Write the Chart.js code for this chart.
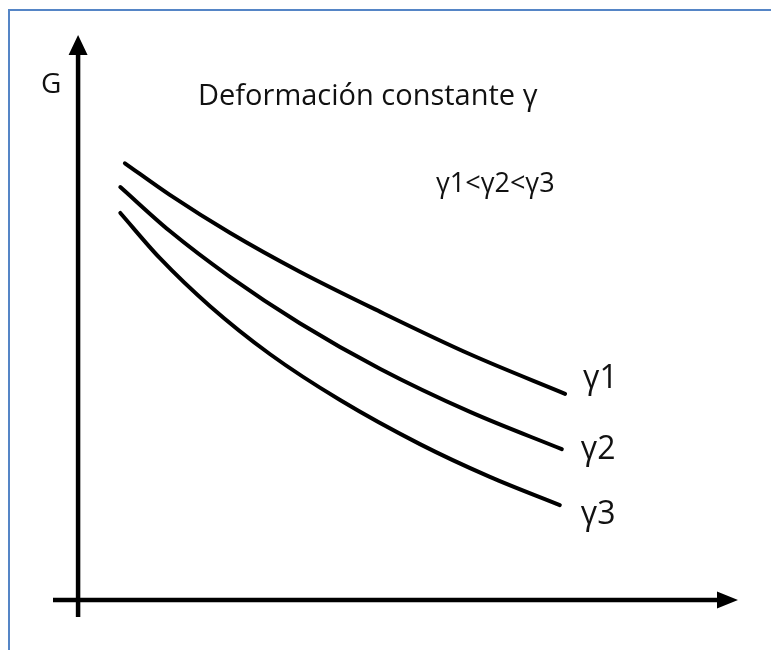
<!DOCTYPE html>
<html>
<head>
<meta charset="utf-8">
<title>Deformación constante γ</title>
<script src="https://cdn.jsdelivr.net/npm/chart.js@4/dist/chart.umd.min.js"></script>
<style>
  html, body { margin: 0; padding: 0; background: #fff; }
  #wrap { position: relative; width: 771px; height: 650px; overflow: hidden; }
  #frame {
    position: absolute; left: 8px; top: 9px; width: 800px; height: 700px;
    border-left: 2px solid #5585c6; border-top: 2px solid #5585c6;
  }
  #chart { position: absolute; left: 0; top: 0; }
</style>
</head>
<body>
<div id="wrap">
  <div id="frame"></div>
  <canvas id="chart" width="771" height="650"></canvas>
</div>
<script>
// G against time (arbitrary units) for three strain levels
const seriesNames = ['γ1', 'γ2', 'γ3'];

const gamma1X = [0.71, 1.39, 2.30, 3.36, 4.58, 5.94, 7.38];
const gamma1G = [7.73, 7.17, 6.50, 5.81, 5.10, 4.35, 3.65];

const gamma2X = [0.64, 1.39, 2.30, 3.36, 4.58, 5.94, 7.33];
const gamma2G = [7.31, 6.53, 5.72, 4.90, 4.09, 3.33, 2.67];

const gamma3X = [0.64, 1.24, 2.00, 2.91, 3.97, 5.18, 6.24, 7.30];
const gamma3G = [6.85, 6.05, 5.20, 4.35, 3.54, 2.76, 2.18, 1.68];

const titleText = 'Deformación constante γ';
const orderText = 'γ1<γ2<γ3';
const yAxisName = 'G';

const FONT = '"Open Sans", "Noto Sans", sans-serif';

function toPoints(xs, ys) {
    return xs.map((x, i) => ({ x: x, y: ys[i] }));
}

function curve(label, xs, ys) {
    return {
        label: label,
        data: toPoints(xs, ys),
        showLine: true,
        borderColor: '#000',
        borderWidth: 4,
        borderCapStyle: 'round',
        cubicInterpolationMode: 'monotone',
        pointRadius: 0,
        pointHoverRadius: 0,
    };
}

// axes with arrow heads, axis name, headings and curve labels
const sketchPlugin = {
    id: 'sketch',
    afterDatasetsDraw(chart) {
        const ctx = chart.ctx;
        const xs = chart.scales.x;
        const ys = chart.scales.y;
        const ox = xs.getPixelForValue(0);
        const oy = ys.getPixelForValue(0);
        const left = xs.getPixelForValue(xs.min);
        const right = xs.getPixelForValue(xs.max);
        const top = ys.getPixelForValue(ys.max);
        const bottom = ys.getPixelForValue(ys.min);

        ctx.save();
        ctx.strokeStyle = '#000';
        ctx.fillStyle = '#000';
        ctx.lineWidth = 4.5;
        ctx.beginPath();
        ctx.moveTo(left, oy);
        ctx.lineTo(right - 15, oy);
        ctx.moveTo(ox, bottom);
        ctx.lineTo(ox, top + 15);
        ctx.stroke();

        ctx.beginPath();
        ctx.moveTo(right, oy);
        ctx.lineTo(right - 21, oy - 8.5);
        ctx.lineTo(right - 21, oy + 8.5);
        ctx.closePath();
        ctx.moveTo(ox, top);
        ctx.lineTo(ox - 9.5, top + 20);
        ctx.lineTo(ox + 9.5, top + 20);
        ctx.closePath();
        ctx.fill();

        ctx.fillStyle = '#111';
        ctx.textBaseline = 'alphabetic';
        ctx.textAlign = 'left';

        ctx.font = '500 28px ' + FONT;
        ctx.fillText(yAxisName, ox - 37, 93);

        ctx.font = '500 29px ' + FONT;
        ctx.fillText(titleText, 198, 105);

        ctx.font = '500 27px ' + FONT;
        ctx.fillText(orderText, 436, 192);

        // names next to the end of each curve
        const offsets = [[18, -6], [19, 10], [21, 19]];
        ctx.font = '500 32px ' + FONT;
        chart.data.datasets.forEach((ds, i) => {
            const last = ds.data[ds.data.length - 1];
            const px = xs.getPixelForValue(last.x) + offsets[i][0];
            const py = ys.getPixelForValue(last.y) + offsets[i][1];
            ctx.fillText(seriesNames[i], px, py);
        });
        ctx.restore();
    }
};

new Chart(document.getElementById('chart'), {
    type: 'scatter',
    data: {
        datasets: [
            curve(seriesNames[0], gamma1X, gamma1G),
            curve(seriesNames[1], gamma2X, gamma2G),
            curve(seriesNames[2], gamma3X, gamma3G),
        ]
    },
    options: {
        responsive: false,
        animation: false,
        layout: { padding: { left: 53, right: 33, top: 35, bottom: 33 } },
        scales: {
            x: { type: 'linear', min: -0.38, max: 10, display: false },
            y: { type: 'linear', min: -0.3, max: 10, display: false },
        },
        plugins: {
            legend: { display: false },
            tooltip: { enabled: false },
        }
    },
    plugins: [sketchPlugin]
});
</script>
</body>
</html>
